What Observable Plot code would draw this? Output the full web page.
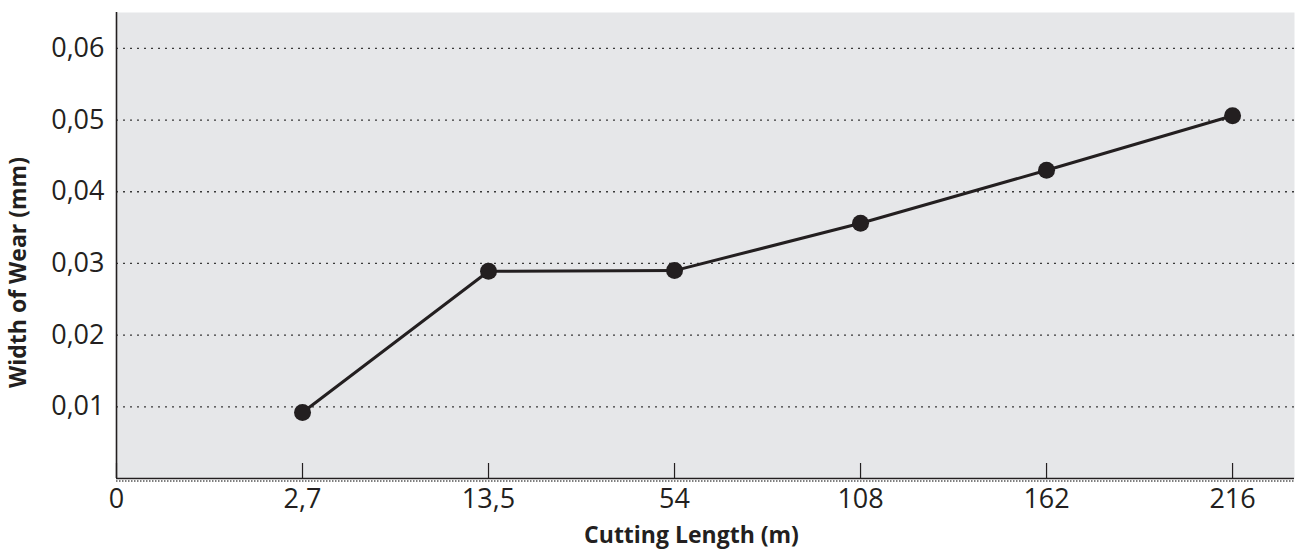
<!DOCTYPE html>
<html><head><meta charset="utf-8">
<script src="https://cdn.jsdelivr.net/npm/d3@7"></script>
<script src="https://cdn.jsdelivr.net/npm/@observablehq/plot@0.6"></script>
<style>body{margin:0;background:#fff}</style>
</head><body><div id="chart"></div>
<script>
const categories = ["0", "2,7", "13,5", "54", "108", "162", "216"];
const cuttingLength = ["2,7", "13,5", "54", "108", "162", "216"];
const wearWidth = [0.0092, 0.0289, 0.0290, 0.0356, 0.0430, 0.0506];
const yTicks = [0.01, 0.02, 0.03, 0.04, 0.05, 0.06];
const yTickLabels = ["0,01", "0,02", "0,03", "0,04", "0,05", "0,06"];
const xLabel = "Cutting Length (m)";
const yLabel = "Width of Wear (mm)";

const data = cuttingLength.map((c, i) => ({pos: categories.indexOf(c), c, w: wearWidth[i]}));
const tickPos = categories.map((c, i) => i);
const ink = "#231f20";

const chart = Plot.plot({
  width: 1296, height: 550,
  marginLeft: 116, marginRight: 2, marginTop: 12, marginBottom: 72,
  style: {fontFamily: "'Open Sans', sans-serif", background: "#fff", color: ink},
  x: {domain: [0, 6.333]},
  y: {domain: [0, 0.065]},
  marks: [
    Plot.frame({fill: "#e6e7e9", stroke: null}),
    Plot.ruleY(yTicks, {stroke: "#3a3a3a", strokeWidth: 1.3, strokeDasharray: "2,5"}),
    Plot.ruleY([0], {dy: 2.5, stroke: "#555", strokeWidth: 1.6, strokeDasharray: "1.5,1.5"}),
    Plot.ruleY([0], {stroke: ink, strokeWidth: 1.6}),
    Plot.ruleX([0], {stroke: ink, strokeWidth: 1.6}),
    Plot.ruleX(tickPos, {y1: 0, y2: 0, insetBottom: 15, stroke: ink, strokeWidth: 1.2}),
    Plot.axisX(tickPos, {tickSize: 0, tickPadding: 10, tickFormat: i => categories[i], fontSize: 27, label: null}),
    Plot.axisY(yTicks, {tickSize: 0, tickPadding: 12, tickFormat: d => yTickLabels[yTicks.indexOf(d)], fontSize: 27, label: null}),
    Plot.line(data, {x: "pos", y: "w", stroke: ink, strokeWidth: 3}),
    Plot.dot(data, {x: "pos", y: "w", r: 8.5, fill: ink, stroke: null}),
    Plot.text([xLabel], {frameAnchor: "bottom", lineAnchor: "middle", textAnchor: "middle", dy: 57, dx: -14, fontSize: 23, fontWeight: "bold", fill: ink}),
    Plot.text([yLabel], {frameAnchor: "left", lineAnchor: "middle", textAnchor: "middle", rotate: -90, dx: -98, dy: 27, fontSize: 23, fontWeight: "bold", fill: ink})
  ]
});
document.getElementById("chart").appendChild(chart);
</script>
</body></html>
